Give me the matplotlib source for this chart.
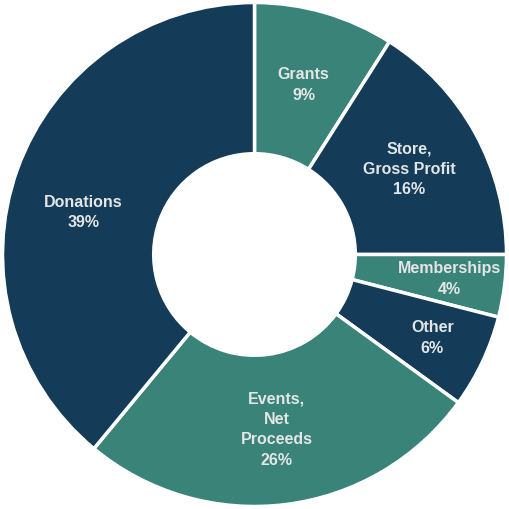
import numpy as np
import matplotlib.pyplot as plt

labels = ['Grants', 'Store,\nGross Profit', 'Memberships', 'Other',
          'Events,\nNet\nProceeds', 'Donations']
shares = [9, 16, 4, 6, 26, 39]

navy = '#143b57'
teal = '#3a8378'
colors = [teal, navy, teal, navy, teal, navy]

fig = plt.figure(figsize=(5.09, 5.09), dpi=100)
ax = fig.add_axes([0, 0, 1, 1])

wedges, _ = ax.pie(shares, colors=colors, startangle=90, counterclock=False,
                   radius=1.0,
                   wedgeprops=dict(width=0.6, edgecolor='white', linewidth=2.5))

# label radius per slice (small slices sit a bit further out)
label_r = [0.70, 0.70, 0.78, 0.78, 0.70, 0.70]
angle_shift = [0, 0, 0, 0, 0, 6]
for w, lab, val, r, da in zip(wedges, labels, shares, label_r, angle_shift):
    ang = np.deg2rad((w.theta1 + w.theta2) / 2 + da)
    ax.text(r * np.cos(ang), r * np.sin(ang), f'{lab}\n{val}%',
            ha='center', va='center', color='#e4e6e6', fontsize=11.5,
            fontweight='bold', family='Liberation Sans', linespacing=1.45)

ax.set_xlim(-1.01, 1.01)
ax.set_ylim(-1.01, 1.01)
ax.set_aspect('equal')
ax.axis('off')

fig.savefig('out.png', dpi=100, facecolor='white')
